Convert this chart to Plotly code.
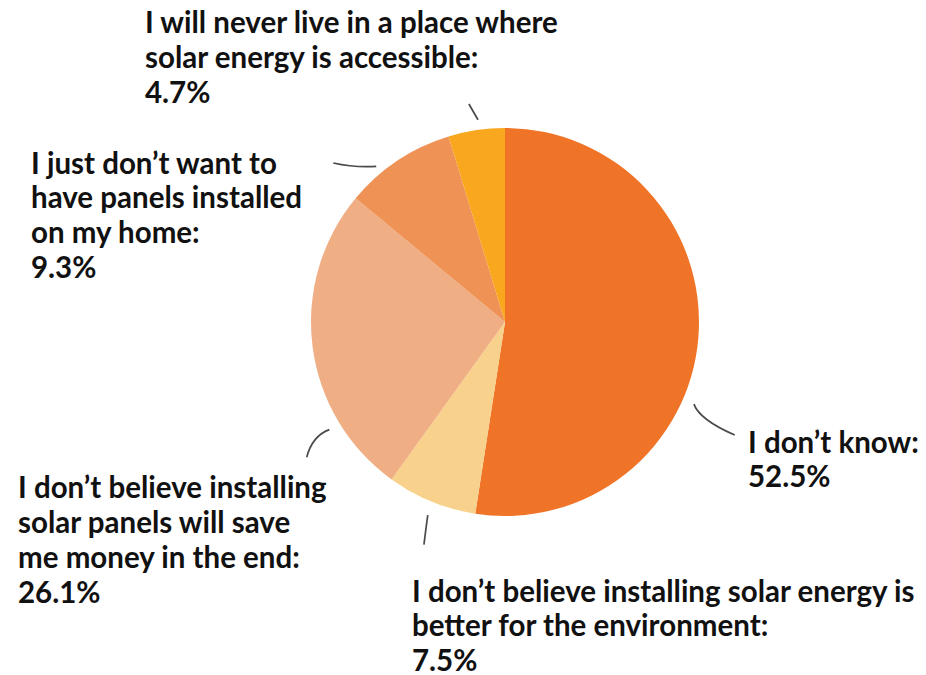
import math
import plotly.graph_objects as go

# Survey answers, in clockwise order from 12 o'clock
answers = [
    "I don't know",
    "I don't believe installing solar energy is better for the environment",
    "I don't believe installing solar panels will save me money in the end",
    "I just don't want to have panels installed on my home",
    "I will never live in a place where solar energy is accessible",
]
shares = [52.5, 7.5, 26.1, 9.3, 4.7]
slice_colors = ["#F07427", "#F8D28C", "#F0AE84", "#EF9256", "#F8A71F"]

# Label text broken into lines as typeset beside the pie
label_lines = [
    ["I don\u2019t know:"],
    ["I don\u2019t believe installing solar energy is", "better for the environment:"],
    ["I don\u2019t believe installing", "solar panels will save", "me money in the end:"],
    ["I just don\u2019t want to", "have panels installed", "on my home:"],
    ["I will never live in a place where", "solar energy is accessible:"],
]
# Left edge and cap-top of the first line of each label block (pixels)
label_pos = [(750, 432), (414, 581), (20, 478), (33, 153), (147, 13)]
LINE_PITCH = 34.7
FONT_SIZE = 29.5

# Leader strokes in polar form around the pie centre: (angle deg, radius px)
# start, control, end
leaders = [
    ((113.5, 206), (116.7, 218), (116.2, 256)),
    ((201.8, 208), (200.9, 222), (200.0, 237)),
    ((238.5, 206), (239.4, 224), (235.7, 240)),
    ((320.4, 202), (315.8, 215), (312.8, 234)),
    ((352.4, 204), (351.5, 212), (350.6, 221)),
]

W, H = 926, 675
CX, CY, R = 505, 322, 194


def px(x, y):
    return x / W, 1 - y / H


def polar(a, r):
    t = math.radians(a)
    return CX + r * math.sin(t), CY - r * math.cos(t)


fig = go.Figure(
    go.Pie(
        labels=answers,
        values=shares,
        marker=dict(colors=slice_colors, line=dict(width=0)),
        sort=False,
        direction="clockwise",
        rotation=0,
        textinfo="none",
        showlegend=False,
        domain=dict(x=[(CX - R) / W, (CX + R) / W], y=[1 - (CY + R) / H, 1 - (CY - R) / H]),
    )
)

shapes = []
for (s, c, e) in leaders:
    x0, y0 = px(*polar(*s))
    x1, y1 = px(*polar(*c))
    x2, y2 = px(*polar(*e))
    shapes.append(
        dict(
            type="path",
            xref="paper",
            yref="paper",
            path=f"M {x0:.5f},{y0:.5f} Q {x1:.5f},{y1:.5f} {x2:.5f},{y2:.5f}",
            line=dict(color="#4a4a4a", width=1.7),
        )
    )

# One annotation per text line so the line pitch can be set exactly
annotations = []
for lines, share, (lx, ly) in zip(label_lines, shares, label_pos):
    for i, line in enumerate(lines + [f"{share}%"]):
        ax, ay = px(lx - 4.5, ly + i * LINE_PITCH - 10.5)
        annotations.append(
            dict(
                text=line,
                x=ax,
                y=ay,
                xref="paper",
                yref="paper",
                xanchor="left",
                yanchor="top",
                align="left",
                showarrow=False,
                font=dict(family="Lato", size=FONT_SIZE, color="#111111", weight="bold"),
            )
        )

fig.update_layout(
    width=W,
    height=H,
    margin=dict(l=0, r=0, t=0, b=0),
    paper_bgcolor="white",
    plot_bgcolor="white",
    shapes=shapes,
    annotations=annotations,
)

fig.write_html("out.html")
